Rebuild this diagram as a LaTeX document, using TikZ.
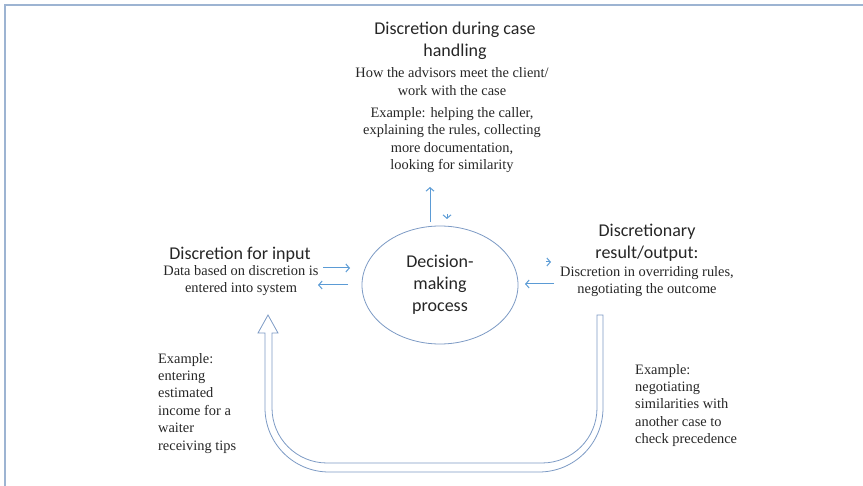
\documentclass[tikz,border=0pt]{standalone}
\usepackage{fontspec}
\setmainfont{Liberation Serif}
\newfontfamily\headfont{Carlito}
\usetikzlibrary{arrows.meta,shapes.geometric}
\definecolor{arrowblue}{HTML}{5B9BD5}
\definecolor{loopblue}{HTML}{7C9AC4}
\definecolor{framegray}{HTML}{9DB4D2}
\definecolor{inkgray}{HTML}{262626}
\tikzset{
  heading/.style={font=\headfont\fontsize{18}{22}\selectfont, text=inkgray, align=center, inner sep=0pt},
  body/.style={font=\fontsize{14.4}{17.5}\selectfont, text=inkgray, align=center, inner sep=0pt},
  note/.style={font=\fontsize{14.4}{17.4}\selectfont, text=inkgray, align=left, inner sep=0pt, anchor=north west},
  flow/.style={draw=arrowblue, line width=1pt, -{Straight Barb[length=3.5pt,width=8pt]}},
  tip/.style={draw=arrowblue, line width=1pt, -{Straight Barb[length=3.5pt,width=8pt]}},
}
\begin{document}
\begin{tikzpicture}[x=1pt,y=-1pt]
\useasboundingbox (0,0) rectangle (863,486);
% page frame
\draw[framegray, line width=1.4pt] (5,486) -- (5,5) -- (863,5);

% central process
\node[ellipse, draw=loopblue, line width=0.8pt, minimum width=156pt, minimum height=118pt,
      heading, align=center] (dm) at (440,285) {Decision-\\making\\process};

% case handling (top)
\node[heading] (caseh) at (455,41) {Discretion during case\\handling};
\node[body] (caseb) at (452,81.5) {How the advisors meet the client/\\work with the case};
\node[body] (casee) at (452,140) {Example: helping the caller,\\explaining the rules, collecting\\more documentation,\\looking for similarity};

% input (left)
\node[heading] (inh) at (240,255) {Discretion for input};
\node[body] (inb) at (241,280.5) {Data based on discretion is\\entered into system};

% output (right)
\node[heading] (outh) at (647,243) {Discretionary\\result/output:};
\node[body] (outb) at (647,281.5) {Discretion in overriding rules,\\negotiating the outcome};

% examples below
\node[note] (inex) at (158,353) {Example:\\entering\\estimated\\income for a\\waiter\\receiving tips};
\node[note] (outex) at (635,364) {Example:\\negotiating\\similarities with\\another case to\\check precedence};

% small flow arrows around the process
\coordinate (upA) at (430,222); \coordinate (upB) at (430,187);
\draw[flow] (upA) -- (upB);
\coordinate (dnA) at (447,214); \coordinate (dnB) at (447,219);
\draw[tip] (dnA) -- (dnB);

\coordinate (l1A) at (323,268); \coordinate (l1B) at (350,268);
\draw[flow] (l1A) -- (l1B);
\coordinate (l2A) at (348,285); \coordinate (l2B) at (318,285);
\draw[flow] (l2A) -- (l2B);

\coordinate (r1A) at (546,262); \coordinate (r1B) at (551,262);
\draw[tip] (r1A) -- (r1B);
\coordinate (r2A) at (554,284); \coordinate (r2B) at (525,284);
\draw[flow] (r2A) -- (r2B);

% feedback loop from output back to input (hollow block arrow)
\draw[loopblue, line width=0.8pt, line join=miter]
  (603,315) -- (603,408) arc[start angle=0, end angle=-90, radius=64pt]
  -- (329,472) arc[start angle=270, end angle=180, radius=64pt]
  -- (265,333) -- (258,333) -- (268,315) -- (278,333) -- (272,333)
  -- (272,408) arc[start angle=180, end angle=270, radius=55pt]
  -- (542,463) arc[start angle=270, end angle=360, radius=55pt]
  -- (597,315) -- cycle;
\end{tikzpicture}
\end{document}
